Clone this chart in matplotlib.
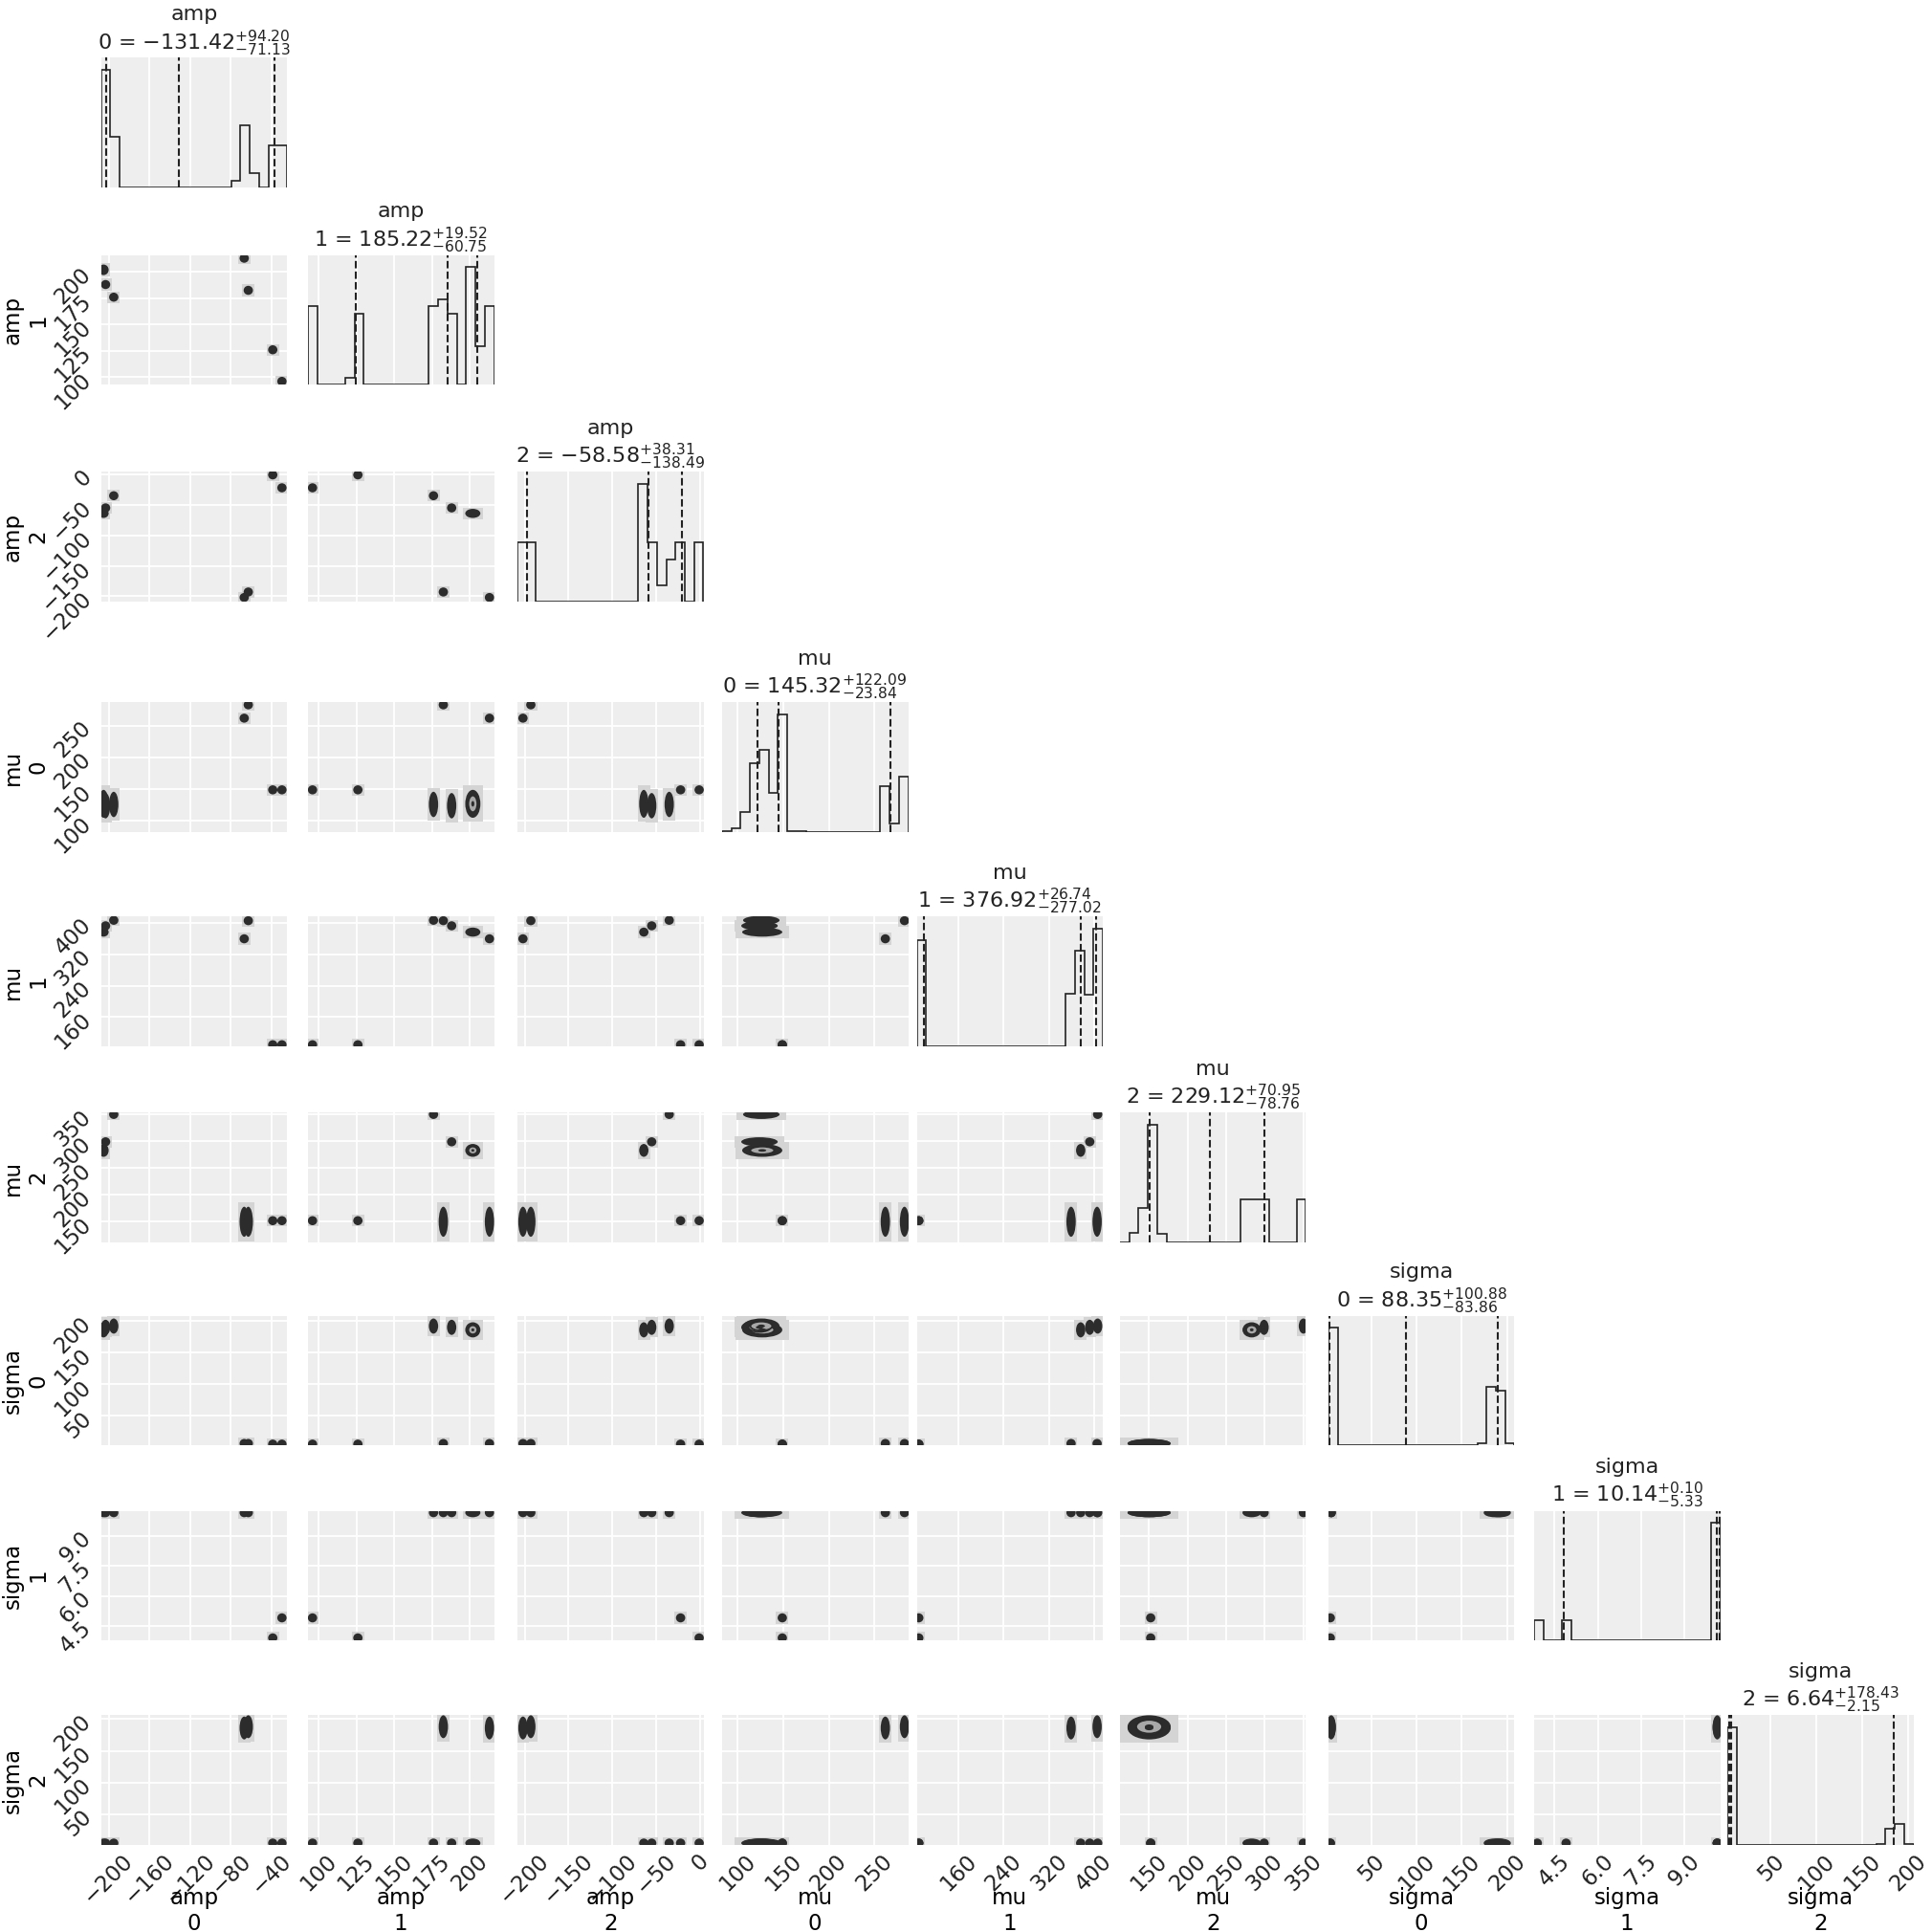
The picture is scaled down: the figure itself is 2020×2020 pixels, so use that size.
import numpy as np
import matplotlib
matplotlib.use("Agg")
import matplotlib.pyplot as plt
from matplotlib.patches import Ellipse, Rectangle

# parameter labels (name \n index)
labels = ["amp\n0", "amp\n1", "amp\n2", "mu\n0", "mu\n1", "mu\n2",
          "sigma\n0", "sigma\n1", "sigma\n2"]

# axis range of each parameter (min / max of the chain)
lims = [(-207.5, -25.0), (93.0, 216.0), (-208.3, 4.1), (83.0, 287.0), (86.4, 415.0),
        (112.2, 353.4), (3.0, 208.0), (3.79, 10.25), (2.5, 206.0)]

ticks = [[-200, -160, -120, -80, -40], [100, 125, 150, 175, 200],
         [-200, -150, -100, -50, 0], [100, 150, 200, 250], [160, 240, 320, 400],
         [150, 200, 250, 300, 350], [50, 100, 150, 200], [4.5, 6.0, 7.5, 9.0],
         [50, 100, 150, 200]]

# 1d marginal histograms, 20 bins over the axis range
hist_amp0 = [367, 157, 0, 0, 0, 0, 0, 0, 0, 0, 0, 0, 0, 0, 20, 192, 43, 0, 130, 130]
hist_amp1 = [245, 0, 0, 0, 20, 220, 0, 0, 0, 0, 0, 0, 0, 245, 265, 220, 0, 367, 118, 245]
hist_amp2 = [183, 183, 0, 0, 0, 0, 0, 0, 0, 0, 0, 0, 0, 366, 183, 51, 131, 183, 0, 183]
hist_mu0 = [2, 10, 63, 213, 257, 122, 368, 2, 2, 0, 0, 0, 0, 0, 0, 0, 0, 143, 27, 171]
hist_mu1 = [330, 0, 0, 0, 0, 0, 0, 0, 0, 0, 0, 0, 0, 0, 0, 0, 163, 297, 160, 365]
hist_mu2 = [0, 30, 106, 366, 25, 0, 0, 0, 0, 0, 0, 0, 0, 132, 132, 132, 0, 0, 0, 132]
hist_sig0 = [366, 0, 0, 0, 0, 0, 0, 0, 0, 0, 0, 0, 0, 0, 0, 0, 6, 181, 169, 6]
hist_sig1 = [62, 0, 0, 62, 0, 0, 0, 0, 0, 0, 0, 0, 0, 0, 0, 0, 0, 0, 0, 367]
hist_sig2 = [367, 0, 0, 0, 0, 0, 0, 0, 0, 0, 0, 0, 0, 0, 0, 0, 3, 50, 65, 1]
hists = [hist_amp0, hist_amp1, hist_amp2, hist_mu0, hist_mu1, hist_mu2,
         hist_sig0, hist_sig1, hist_sig2]

# median and 16/84 percentile offsets
median = [-131.42, 185.22, -58.58, 145.32, 376.92, 229.12, 88.35, 10.14, 6.64]
err_hi = [94.20, 19.52, 38.31, 122.09, 26.74, 70.95, 100.88, 0.10, 178.43]
err_lo = [71.13, 60.75, 138.49, 23.84, 277.02, 78.76, 83.86, 5.33, 2.15]

# separated posterior modes (walker clusters A..G), centre and half-width
mode_amp0 = [-205, -203, -195, -67, -63, -39, -30]
mode_amp1 = [202, 188, 176, 213, 182.5, 126, 96]
mode_amp2 = [-64, -55, -35, -202, -193, -0.8, -22]
mode_mu0 = [127, 124, 126, 262, 283, 149, 149]
mode_mu1 = [376, 392, 406, 359, 405, 90, 90]
mode_mu2 = [283, 299, 350, 150, 150, 152, 152]
mode_sig0 = [186, 190, 192, 6, 6, 5, 5]
mode_sig1 = [10.15, 10.15, 10.15, 10.15, 10.15, 3.9, 4.9]
mode_sig2 = [5, 5, 5, 186, 188, 5, 5]
modes = [mode_amp0, mode_amp1, mode_amp2, mode_mu0, mode_mu1, mode_mu2,
         mode_sig0, mode_sig1, mode_sig2]

width_amp0 = [5, 3, 3, 1.5, 1.5, 2.5, 2.5]
width_amp1 = [5, 2.5, 2, 2, 2, 2.5, 2]
width_amp2 = [5, 3, 3, 3, 3, 2.5, 2.5]
width_mu0 = [22, 20, 20, 3, 3, 4, 4]
width_mu1 = [5, 5, 5, 3, 4, 3, 3]
width_mu2 = [12, 5, 4, 28, 28, 4, 4]
width_sig0 = [12, 12, 12, 3, 3, 3, 3]
width_sig1 = [0.08, 0.08, 0.08, 0.08, 0.08, 0.08, 0.08]
width_sig2 = [2, 2, 2, 18, 18, 2, 2]
widths = [width_amp0, width_amp1, width_amp2, width_mu0, width_mu1, width_mu2,
          width_sig0, width_sig1, width_sig2]

txt = "#222222"
plt.rcParams["font.family"] = "DejaVu Sans"
plt.rcParams["text.color"] = txt
plt.rcParams["xtick.color"] = txt
plt.rcParams["ytick.color"] = txt

fig = plt.figure(figsize=(20.2, 20.2), dpi=100)
W = 2020.0
col_left = [105.6, 322, 541, 755, 958.5, 1171, 1389, 1604, 1806]
row_top = [60.5, 266.7, 493.4, 734.3, 958.5, 1163.3, 1375.9, 1579.5, 1793.4]
aw, ah = 194.5, 135.3
n = len(labels)


def style(ax, i, j):
    ax.set_facecolor("#eeeeee")
    for s in ax.spines.values():
        s.set_visible(False)
    ax.grid(True, color="white", lw=1.3)
    ax.set_axisbelow(True)
    ax.tick_params(length=0, labelsize=16.5, pad=4)
    ax.set_xlim(lims[j])
    ax.set_xticks(ticks[j])
    if i == n - 1:
        for l in ax.get_xticklabels():
            l.set_rotation(45)
        ax.set_xlabel(labels[j], fontsize=16.5)
        ax.xaxis.set_label_coords(0.5, -0.33)
    else:
        ax.set_xticklabels([])


for i in range(n):
    for j in range(i + 1):
        ax = fig.add_axes([col_left[j] / W, 1 - (row_top[i] + ah) / W, aw / W, ah / W])
        style(ax, i, j)
        if i == j:
            edges = np.linspace(lims[i][0], lims[i][1], 21)
            ax.stairs(hists[i], edges, color="#222222", lw=1.2, baseline=0)
            for q in [median[i] - err_lo[i], median[i], median[i] + err_hi[i]]:
                ax.axvline(q, ls="--", color="#222222", lw=1.5)
            ax.set_ylim(0, 1.1 * max(hists[i]))
            ax.set_yticks([])
            ax.set_title("%s = $%.2f_{-%.2f}^{+%.2f}$" % (labels[i], median[i], err_lo[i], err_hi[i]),
                         fontsize=16)
            continue
        ax.set_ylim(lims[i])
        ax.set_yticks(ticks[i])
        if j == 0:
            for l in ax.get_yticklabels():
                l.set_rotation(45)
            ax.set_ylabel(labels[i], fontsize=16.5)
            ax.yaxis.set_label_coords(-0.28, 0.5)
        else:
            ax.set_yticklabels([])

        xs, ys = lims[j][1] - lims[j][0], lims[i][1] - lims[i][0]
        blobs = []
        for m in range(len(modes[j])):
            sx = max(widths[j][m], 0.025 * xs)
            sy = max(widths[i][m], 0.035 * ys)
            blobs.append((modes[j][m], modes[i][m], sx, sy))
        for cx, cy, sx, sy in blobs:
            ax.add_patch(Rectangle((cx - 1.35 * sx, cy - 1.3 * sy), 2.7 * sx, 2.6 * sy,
                                   fc="#d4d4d4", ec="none", zorder=1))
        for cx, cy, sx, sy in blobs:
            ax.add_patch(Ellipse((cx, cy), 2 * sx, 2 * sy, fc="#2c2c2c", ec="none", zorder=2))
            if sx / xs * aw > 6 and sy / ys * ah > 6:
                ax.add_patch(Ellipse((cx, cy), 1.2 * sx, 1.2 * sy, fc="#a8a8a8",
                                     ec="#2a2a2a", lw=1.3, zorder=3))
                ax.add_patch(Ellipse((cx, cy), 0.4 * sx, 0.4 * sy, fc="#2c2c2c",
                                     ec="none", zorder=4))

fig.savefig("out.png", dpi=100)
